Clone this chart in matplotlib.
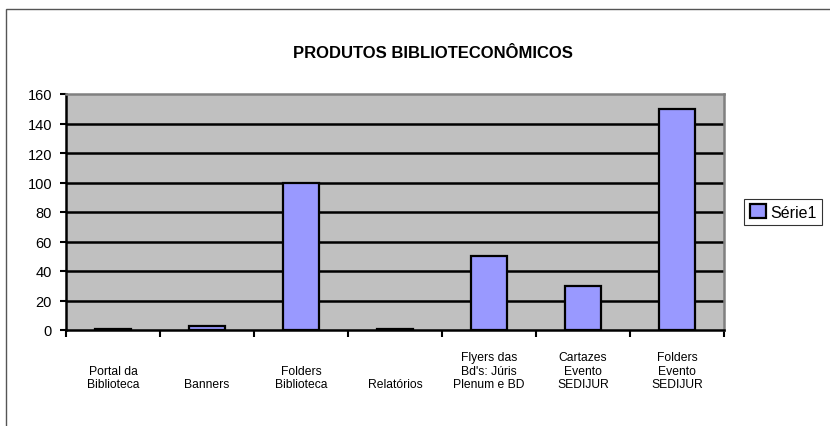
import numpy as np
import matplotlib.pyplot as plt
import matplotlib.patches as patches
from matplotlib.transforms import blended_transform_factory

plt.rcParams['font.family'] = ['Liberation Sans', 'DejaVu Sans']

# data
categories = ['Portal da\nBiblioteca', 'Banners', 'Folders\nBiblioteca', 'Relatórios',
              "Flyers das\nBd's: Júris\nPlenum e BD", 'Cartazes\nEvento\nSEDIJUR',
              'Folders\nEvento\nSEDIJUR']
values = [1, 3, 100, 1, 50, 30, 150]
yticks = [0, 20, 40, 60, 80, 100, 120, 140, 160]

fig = plt.figure(figsize=(8.3, 4.27), dpi=100)
ax = fig.add_axes([66/830, 1-331/427, (724-66)/830, (331-95)/427])
ax.set_facecolor('#C0C0C0')

x = np.arange(len(categories))
ax.bar(x, values, width=0.39, color='#9999FF', edgecolor='black', linewidth=1.6,
       label='Série1', zorder=3)

ax.set_xlim(-0.5, len(categories) - 0.5)
ax.set_ylim(0, 160)
ax.set_yticks(yticks)
ax.tick_params(axis='y', direction='out', length=4.5, width=1.5, labelsize=10.5, pad=5.5)
for t in yticks[1:-1]:
    ax.axhline(t, color='black', linewidth=1.8, zorder=1)

# ticks at category boundaries, labels as text
ax.set_xticks(np.arange(len(categories) + 1) - 0.5)
ax.set_xticklabels([])
ax.tick_params(axis='x', direction='out', length=5, width=1.5)
trans = blended_transform_factory(ax.transData, ax.transAxes)
for i, lab in enumerate(categories):
    ax.text(i, -0.255, lab, transform=trans, ha='center', va='bottom',
            multialignment='center', fontsize=8.7, linespacing=1.15)

for s in ['top', 'right']:
    ax.spines[s].set_color('#808080')
    ax.spines[s].set_linewidth(1.8)
for s in ['left', 'bottom']:
    ax.spines[s].set_color('black')
    ax.spines[s].set_linewidth(1.8)

fig.text(0.522, 1-53/427, 'PRODUTOS BIBLIOTECONÔMICOS', ha='center', va='center',
         fontsize=12, fontweight='bold')

leg = fig.legend(loc='center left', bbox_to_anchor=(736/830, 1-213/427), fontsize=11.5,
                 frameon=True, fancybox=False, edgecolor='black', handlelength=1.0,
                 handleheight=1.0, handletextpad=0.3, borderpad=0.35)
leg.get_frame().set_linewidth(0.8)

# outer chart border
fig.patches.append(patches.Rectangle((6/830, -0.1), 1.2, 1-10/427+0.1,
                                     transform=fig.transFigure, fill=False,
                                     edgecolor='#555555', linewidth=1.0))

fig.savefig('out.png', dpi=100)
